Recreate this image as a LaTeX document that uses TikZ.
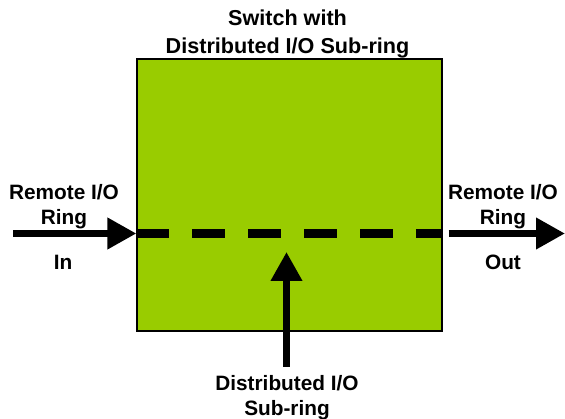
\documentclass[tikz,border=0pt]{standalone}
\usepackage{fontspec}
\setmainfont{Liberation Sans}
\usetikzlibrary{arrows.meta,positioning,calc}
\definecolor{swgreen}{HTML}{99CC00}
\begin{document}
\begin{tikzpicture}[x=1pt,y=-1pt, font=\bfseries\fontsize{20.8}{25}\selectfont,
  swbox/.style={draw,line width=1.2pt,fill=swgreen,minimum width=305pt,minimum height=272pt,inner sep=0pt},
  lbl/.style={align=center,inner sep=0pt},
  bigarrow/.style={line width=7pt,-{Triangle[length=29pt,width=30pt]}},
  dashline/.style={line width=8.5pt,dash pattern=on 33pt off 23pt}]
  \useasboundingbox (0,0) rectangle (565,419);
  \node[swbox](sw) at (289.5,195){};
  \node[lbl,anchor=north,font=\bfseries\fontsize{21.6}{28}\selectfont](title) at (287.5,10){Switch with\\Distributed I/O Sub-ring};
  \node[lbl,anchor=north](inlbl) at (64,184){Remote I/O\\Ring};
  \node[lbl,anchor=base](in) at (63,270){In};
  \node[lbl,anchor=north](outlbl) at (503,184){Remote I/O\\Ring};
  \node[lbl,anchor=base](out) at (503,270){Out};
  \node[lbl,anchor=north](sublbl) at (287,375){Distributed I/O\\Sub-ring};
  \coordinate(ringL) at (13,233.5);
  \coordinate(ringR) at (565,233.5);
  \coordinate(subS) at (286.5,367);
  \coordinate(subT) at (286.5,252);
  \draw[dashline](sw.west|-ringL)--(sw.east|-ringL);
  \draw[bigarrow](ringL)--(sw.west|-ringL);
  \draw[bigarrow]($(sw.east|-ringR)+(6,0)$)--(ringR);
  \draw[bigarrow](subS)--(subT);
\end{tikzpicture}
\end{document}
